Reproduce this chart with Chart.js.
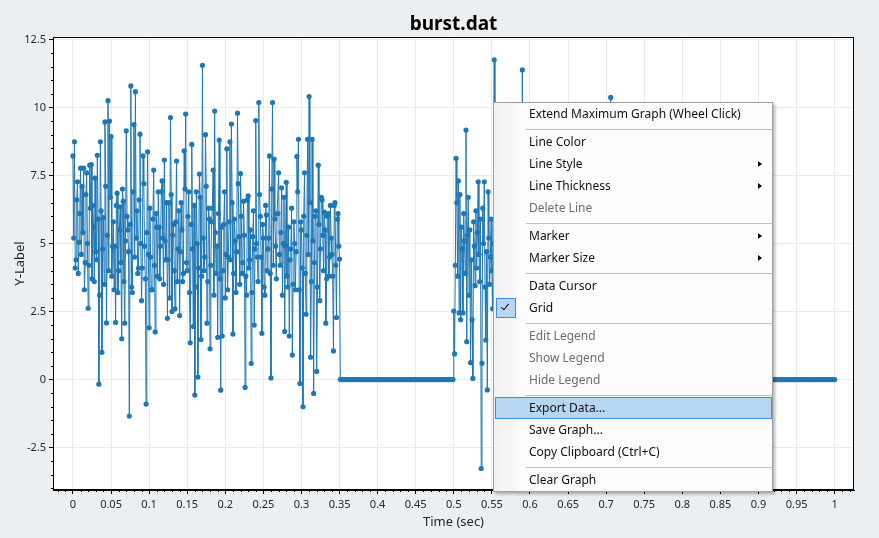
<!DOCTYPE html>
<html>
<head>
<meta charset="utf-8">
<script src="https://cdn.jsdelivr.net/npm/chart.js@4"></script>
<style>
  body { margin: 0; background: #eceff1; }
  #wrap { position: relative; width: 879px; height: 538px; }
  #menu {
    position: absolute; left: 493px; top: 102px; width: 278px; height: 388px;
    border: 1px solid #a0a0a0;
    background: linear-gradient(to right, #f1f1f1 0, #f8f8f8 24px, #fcfcfc 24px);
    box-shadow: 2px 2px 3px rgba(0, 0, 0, 0.3);
    font: 12px 'Noto Sans', sans-serif; color: #111;
  }
  .item { position: relative; height: 22px; line-height: 22px; padding-left: 35px; white-space: nowrap; }
  .off { color: #6d6d6d; }
  .sep { position: relative; height: 6px; }
  .sep::after { content: ''; position: absolute; left: 32px; right: 0; top: 4px; height: 1px; background: #bdbdbd; }
  .sub::after {
    content: ''; position: absolute; left: 264px; top: 7.5px;
    border-left: 4px solid #000; border-top: 3.5px solid transparent; border-bottom: 3.5px solid transparent;
  }
  .hot { margin-left: 1px; padding-left: 34px; background: #b7d6f3; box-shadow: inset 0 0 0 1px #3b8de0; }
  .checked::before {
    content: ''; position: absolute; left: 2px; top: 1px; width: 18px; height: 18px;
    border: 1px solid #3d8ee0; background: #b8d6f3;
  }
  .checked::after {
    content: ''; position: absolute; left: 9px; top: 5px; width: 3px; height: 7px;
    border-right: 1.5px solid #111; border-bottom: 1.5px solid #111; transform: rotate(40deg);
  }
</style>
</head>
<body>
<div id="wrap">
  <canvas id="burstChart" width="879" height="538"></canvas>
  <div id="menu">
    <div class="item">Extend Maximum Graph (Wheel Click)</div>
    <div class="sep"></div>
    <div class="item">Line Color</div>
    <div class="item sub">Line Style</div>
    <div class="item sub">Line Thickness</div>
    <div class="item off">Delete Line</div>
    <div class="sep"></div>
    <div class="item sub">Marker</div>
    <div class="item sub">Marker Size</div>
    <div class="sep"></div>
    <div class="item">Data Cursor</div>
    <div class="item checked">Grid</div>
    <div class="sep"></div>
    <div class="item off">Edit Legend</div>
    <div class="item off">Show Legend</div>
    <div class="item off">Hide Legend</div>
    <div class="sep"></div>
    <div class="item hot">Export Data...</div>
    <div class="item">Save Graph...</div>
    <div class="item">Copy Clipboard (Ctrl+C)</div>
    <div class="sep"></div>
    <div class="item">Clear Graph</div>
  </div>
</div>
<script>
// first burst, 1 ms samples, t = 0 .. 0.350
const burst1 = [
  8.22, 5.2, 8.74, 4.1, 4.4, 6.6, 7.27, 3.9, 5.05, 6.1, 7.77, 4.6, 7.1, 5.4, 7.77, 3.3, 4.3, 6.8, 7.6, 5.0,
  2.62, 4.2, 7.88, 6.3, 7.9, 3.7, 6.4, 5.6, 3.6, 7.4, 4.7, 4.4, 8.24, 5.9, -0.17, 3.1, 8.74, 6.2, 1.0, 4.8,
  5.95, 3.5, 9.47, 7.1, 2.08, 5.3, 10.25, 4.0, 9.5, 6.7, 8.93, 3.8, 4.9, 5.8, 3.3, 4.9, 2.1, 6.4, 6.85, 3.2,
  4.0, 5.5, 6.35, 4.3, 1.5, 7.0, 6.55, 3.6, 2.07, 5.1, 9.14, 6.0, 5.5, 4.7, -1.34, 5.7, 10.79, 3.4, 3.2, 6.9,
  9.37, 4.5, 10.58, 5.2, 6.2, 3.9, 4.1, 6.6, 9.02, 5.0, 2.9, 4.1, 8.22, 7.2, 4.9, 3.7, -0.9, 5.4, 8.37, 4.6,
  1.9, 6.3, 4.5, 3.3, 3.3, 5.9, 7.7, 4.2, 1.75, 6.1, 5.6, 3.8, 6.9, 5.6, 3.7, 4.9, 6.9, 7.3, 5.2, 3.5,
  8.07, 5.1, 4.4, 6.5, 2.25, 4.4, 6.5, 3.0, 9.63, 6.8, 2.5, 5.3, 5.7, 4.0, 2.6, 5.8, 8.03, 3.6, 4.8, 6.2,
  2.35, 4.7, 6.5, 5.5, 3.6, 3.9, 8.41, 7.0, 9.76, 4.3, 4.0, 6.0, 6.9, 3.2, 1.35, 5.7, 8.64, 4.8, 1.95, 6.4,
  -0.57, 3.4, 6.9, 5.0, 0.09, 4.1, 7.55, 6.7, 1.47, 3.8, 11.55, 5.2, 4.0, 4.5, 9.0, 7.1, 2.07, 3.6, 6.3, 5.9,
  1.13, 4.2, 5.8, 6.3, 7.7, 3.1, 9.87, 5.4, 3.9, 4.9, 1.55, 6.1, 8.8, 3.7, -0.39, 5.6, 1.6, 4.0, 5.7, 6.9,
  3.0, 4.6, 8.48, 3.3, 4.5, 5.8, 8.74, 4.4, 9.39, 6.5, 1.67, 3.9, 5.9, 5.1, 3.2, 4.7, 9.79, 7.2, 5.25, 3.5,
  7.57, 6.0, 3.9, 4.3, 6.55, 5.3, -0.29, 3.8, 3.1, 6.6, 6.75, 4.1, 4.4, 5.5, 0.59, 3.2, 5.25, 6.2, 2.0, 4.8,
  9.52, 5.0, 4.5, 3.6, 10.18, 6.8, 6.0, 4.5, 1.7, 5.7, 5.2, 3.4, 3.1, 6.4, 6.05, 4.0, 4.8, 5.2, 8.22, 3.9,
  0.06, 7.0, 10.18, 4.2, 8.1, 5.9, 4.9, 3.7, 6.1, 6.1, 7.6, 4.6, 4.2, 5.4, 7.05, 3.1, 5.0, 6.7, 1.77, 4.9,
  7.25, 3.8, 3.4, 5.6, 1.6, 4.4, 4.8, 6.3, 0.9, 3.5, 5.8, 5.0, 3.3, 4.7, 8.2, 6.9, 8.83, 3.3, -0.15, 5.8,
  5.5, 4.1, -1.0, 6.0, 7.6, 3.9, 2.4, 5.3, 8.83, 4.6, 10.4, 6.5, 0.82, 3.6, 8.83, 5.1, -0.51, 4.3, 6.0, 6.2,
  0.3, 3.4, 7.88, 5.7, 2.9, 4.8, 6.7, 6.6, 5.3, 4.0, 6.15, 5.5, 2.07, 3.7, 6.0, 6.1, 3.8, 4.5, 6.4, 5.2,
  4.6, 3.8, 1.05, 6.4, 6.5, 4.2, 2.28, 5.9, 6.1, 4.9, 4.43
];

// quiet stretch, 2 ms samples, t = 0.351 .. 0.499
const quiet1 = [
  0, 0, 0, 0, 0, 0, 0, 0, 0, 0, 0, 0, 0, 0, 0, 0, 0, 0, 0, 0, 0, 0, 0, 0, 0,
  0, 0, 0, 0, 0, 0, 0, 0, 0, 0, 0, 0, 0, 0, 0, 0, 0, 0, 0, 0, 0, 0, 0, 0, 0,
  0, 0, 0, 0, 0, 0, 0, 0, 0, 0, 0, 0, 0, 0, 0, 0, 0, 0, 0, 0, 0, 0, 0, 0, 0
];

// second burst, 1 ms samples, t = 0.500 .. 0.750 (mostly behind the menu)
const burst2 = [
  2.52, 0.94, 4.2, 8.13, 6.5, 3.8, 7.3, 2.45, 6.8, 2.2,
  5.6, 4.8, 2.45, 6.1, 5.1, 3.9, 9.17, 1.39, 5.3, 6.7,
  3.1, 5.5, 0.62, 4.4, 2.2, 0.04, 5.8, 4.9, 3.45, 6.2,
  4.1, 5.4, 7.27, 4.6, 3.6, 5.9, -3.27, 0.6, 6.3, 5.0,
  7.27, 3.4, 1.45, 4.7, -0.38, 6.9, 5.2, 3.5, 4.5, 5.9,
  4.0, 2.6, 5.0, 11.75,
  4.5, 5.3, 7.1, 3.9, 1.8, 6.2, 5.6, 4.4, 8.9, 5.0, 3.2, 6.7, 6.4, 3.6, 0.7, 5.8, 5.1, 4.1, 7.8, 6.0,
  2.4, 3.5, 9.3, 5.4, 4.0, 4.8, 6.2, 6.5, 1.1, 3.8, 5.5, 5.1, 8.4, 4.6, 3.0, 6.1, 11.38, 3.7, 4.7, 5.9,
  6.8, 4.2, -0.6, 6.4, 5.9, 3.3, 7.4, 5.6, 2.7, 4.9, 6.0, 6.8, 9.6, 4.0, 3.9, 5.2, 1.5, 3.9, 7.0, 6.3,
  4.3, 4.5, 8.1, 5.7, 0.3, 3.4, 5.3, 6.6, 6.6, 4.7, 2.9, 5.0, 8.7, 3.8, 4.8, 6.0, -1.2, 4.3, 6.3, 5.5,
  3.6, 3.6, 7.9, 6.2, 5.0, 4.8, 1.9, 5.3, 9.1, 4.1, 4.2, 6.9, 6.9, 3.7, 2.3, 5.8, 7.6, 4.4, 5.4, 6.1,
  0.9, 3.2, 8.0, 5.4, 3.4, 4.6, 6.1, 6.7, 4.6, 3.9, 9.4, 5.1, 2.0, 4.2, 5.7, 6.4, 7.2, 3.5, -0.3, 5.9,
  6.5, 4.9, 3.8, 6.3, 8.6, 3.8, 4.9, 5.6, 1.6, 4.0, 7.3, 6.0, 5.2, 3.6, 2.8, 5.2, 9.0, 4.7, 4.4, 6.5,
  6.7, 3.3, 0.5, 5.7, 5.8, 4.5, 7.7, 6.2, 3.1, 3.9, 6.3, 5.0, 10.37, 4.3, 4.1, 6.8, 2.2, 3.7, 7.5, 5.5,
  5.6, 4.1, -0.8, 6.1, 6.2, 3.4, 8.3, 5.8, 3.5, 4.8, 5.0, 6.6, 1.3, 4.0, 7.1, 5.3, 4.5, 3.6, 8.8, 6.4,
  2.6, 4.4, 6.0, 5.1, 3.9, 3.8, 7.4, 6.0, 1.0, 4.6, 5.5, 5.9, 6.9, 3.5, 2.4, 5.4, 4.8
];

// quiet stretch, 2 ms samples, t = 0.752 .. 1.000
const quiet2 = [
  0, 0, 0, 0, 0, 0, 0, 0, 0, 0, 0, 0, 0, 0, 0, 0, 0, 0, 0, 0, 0, 0, 0, 0, 0,
  0, 0, 0, 0, 0, 0, 0, 0, 0, 0, 0, 0, 0, 0, 0, 0, 0, 0, 0, 0, 0, 0, 0, 0, 0,
  0, 0, 0, 0, 0, 0, 0, 0, 0, 0, 0, 0, 0, 0, 0, 0, 0, 0, 0, 0, 0, 0, 0, 0, 0,
  0, 0, 0, 0, 0, 0, 0, 0, 0, 0, 0, 0, 0, 0, 0, 0, 0, 0, 0, 0, 0, 0, 0, 0, 0,
  0, 0, 0, 0, 0, 0, 0, 0, 0, 0, 0, 0, 0, 0, 0, 0, 0, 0, 0, 0, 0, 0, 0, 0, 0
];

// [start time, sample step, values]
const segments = [
  [0, 0.001, burst1],
  [0.351, 0.002, quiet1],
  [0.5, 0.001, burst2],
  [0.752, 0.002, quiet2]
];

const points = [];
segments.forEach(([start, step, values]) => {
  values.forEach((v, i) => points.push({ x: +(start + i * step).toFixed(3), y: v }));
});

const lineBlue = "#1f77b4";

// white plot area, black frame and the small minor ticks
const plotFrame = {
  id: "plotFrame",
  beforeDraw(chart) {
    const { ctx, chartArea: a } = chart;
    ctx.save();
    ctx.fillStyle = "#ffffff";
    ctx.fillRect(a.left, a.top, a.right - a.left, a.bottom - a.top);
    ctx.restore();
  },
  afterDraw(chart) {
    const { ctx, chartArea: a, scales } = chart;
    ctx.save();
    ctx.strokeStyle = "#000";
    ctx.lineWidth = 1;
    ctx.strokeRect(a.left + 0.5, a.top + 0.5, a.right - a.left - 1, a.bottom - a.top - 1);
    ctx.beginPath();
    for (let k = -2; k <= 102; k++) {
      if (k % 5 === 0) continue;
      const px = Math.round(scales.x.getPixelForValue(k / 100)) + 0.5;
      if (px < a.left || px > a.right) continue;
      ctx.moveTo(px, a.bottom);
      ctx.lineTo(px, a.bottom + 2);
    }
    for (let k = -8; k <= 25; k++) {
      if (k % 5 === 0) continue;
      const py = Math.round(scales.y.getPixelForValue(k / 2)) + 0.5;
      if (py < a.top || py > a.bottom) continue;
      ctx.moveTo(a.left - 2, py);
      ctx.lineTo(a.left, py);
    }
    ctx.stroke();
    ctx.restore();
  }
};

Chart.defaults.font.family = "'Noto Sans', sans-serif";
Chart.defaults.color = "#262626";

const ctx = document.getElementById("burstChart").getContext("2d");
new Chart(ctx, {
  type: "line",
  data: {
    datasets: [
      {
        label: "burst.dat",
        data: points,
        borderColor: lineBlue,
        backgroundColor: lineBlue,
        borderWidth: 1,
        pointRadius: 2.6,
        pointBorderWidth: 0,
        pointBackgroundColor: lineBlue,
        pointHoverRadius: 2.6,
        tension: 0,
        fill: false
      }
    ]
  },
  options: {
    responsive: false,
    animation: false,
    events: [],
    layout: { padding: { left: 0, right: 25, top: 0, bottom: 0 } },
    plugins: {
      legend: { display: false },
      tooltip: { enabled: false },
      title: {
        display: true,
        text: "burst.dat",
        fullSize: false,
        color: "#000",
        font: { size: 19, weight: "bold" },
        padding: { top: 13, bottom: 1.2 }
      }
    },
    scales: {
      x: {
        type: "linear",
        min: -0.0262,
        max: 1.0254,
        afterFit: scale => { scale.height = 48; },
        border: { color: "#000", width: 1 },
        grid: { color: "#ebebeb", tickColor: "#000", tickLength: 4 },
        ticks: {
          stepSize: 0.05,
          includeBounds: false,
          autoSkip: false,
          maxRotation: 0,
          padding: 4,
          font: { size: 11 },
          callback: v => String(Math.round(v * 100) / 100)
        },
        title: {
          display: true,
          text: "Time (sec)",
          font: { size: 13 },
          padding: { top: 0, bottom: 8 }
        }
      },
      y: {
        min: -4.06,
        max: 12.59,
        afterFit: scale => { scale.width = 53; },
        border: { color: "#000", width: 1 },
        grid: { color: "#ebebeb", tickColor: "#000", tickLength: 4 },
        ticks: {
          stepSize: 2.5,
          includeBounds: false,
          padding: 3,
          font: { size: 11 },
          callback: v => String(Math.round(v * 10) / 10)
        },
        title: {
          display: true,
          text: "Y-Label",
          font: { size: 13 },
          padding: { top: 12, bottom: 0 }
        }
      }
    }
  },
  plugins: [plotFrame]
});
</script>
</body>
</html>
